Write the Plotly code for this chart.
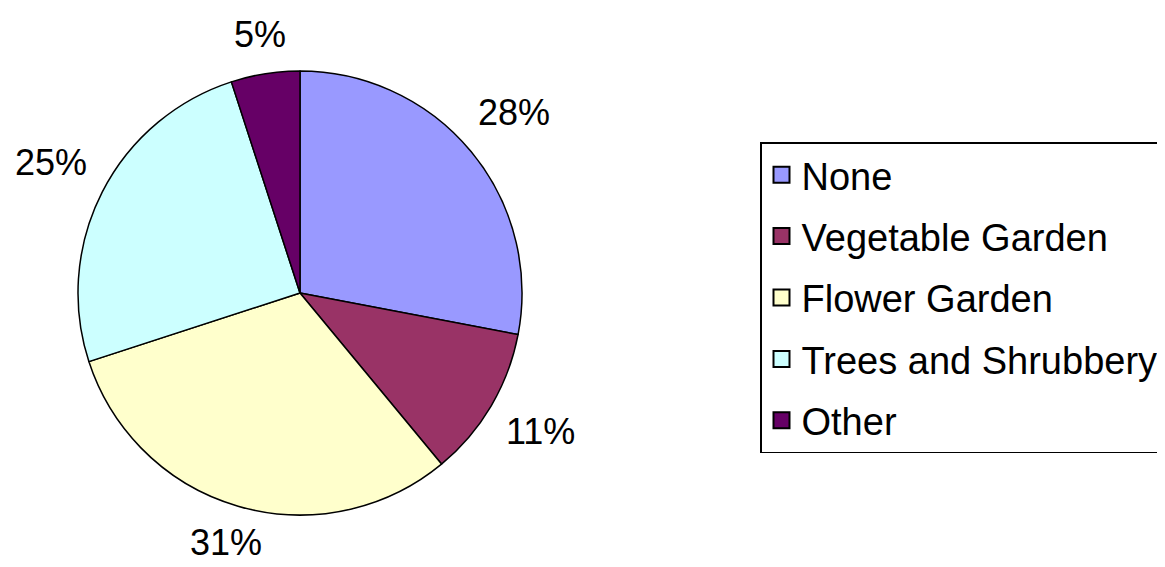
import math
import plotly.graph_objects as go

categories = ["None", "Vegetable Garden", "Flower Garden", "Trees and Shrubbery", "Other"]
values = [28, 11, 31, 25, 5]
colors = ["#9999FF", "#993366", "#FFFFCC", "#CCFFFF", "#660066"]

# page body adds an 8px offset; work in page pixels and shift
OFF = 8
W, H = 1165 - OFF, 567 - OFF
cx, cy, r = 300 - OFF, 293 - OFF, 222
label_cy = cy - 4       # vertical centre used for the label ring
edge_gap = 242          # distance from centre to near edge of label box
lab_size = 36
lab_h = 24
FONT = "Liberation Sans, Arial, sans-serif"

fig = go.Figure()
fig.add_trace(go.Pie(
    labels=categories, values=values, sort=False, direction="clockwise", rotation=0,
    marker=dict(colors=colors, line=dict(color="#000000", width=1.5)),
    textinfo="none", hoverinfo="label+percent", showlegend=False,
    domain=dict(x=[(cx - r) / W, (cx + r) / W], y=[1 - (cy + r) / H, 1 - (cy - r) / H]),
))

# legend entries (separate groups for spacing)
for i, (c, col) in enumerate(zip(categories, colors)):
    fig.add_trace(go.Scatter(
        x=[None], y=[None], mode="markers", name=c, legendgroup=f"g{i}",
        marker=dict(symbol="square", size=16, color=col, line=dict(color="#000000", width=2)),
    ))

# percentage labels placed from cumulative angles
total = sum(values)
cum = 0
annotations = []
for v in values:
    mid = (cum + v / 2) / total * 2 * math.pi
    cum += v
    txt = f"{round(v / total * 100)}%"
    w = lab_size * (0.556 * (len(txt) - 1) + 0.889)
    d = edge_gap + (w / 2) * abs(math.sin(mid)) + (lab_h / 2) * abs(math.cos(mid))
    px = cx + d * math.sin(mid)
    py = label_cy - d * math.cos(mid)
    annotations.append(dict(
        x=px / W, y=1 - py / H, xref="paper", yref="paper",
        text=txt, showarrow=False,
        xanchor="center", yanchor="middle",
        font=dict(family=FONT, size=lab_size, color="#000000"),
    ))

fig.update_layout(
    width=W, height=H,
    margin=dict(l=0, r=0, t=0, b=0),
    paper_bgcolor="#FFFFFF", plot_bgcolor="#FFFFFF",
    xaxis=dict(visible=False), yaxis=dict(visible=False),
    annotations=annotations,
    legend=dict(
        x=(760 - OFF) / W, y=1 - (142 - OFF) / H, xanchor="left", yanchor="top",
        bordercolor="#000000", borderwidth=1.5, bgcolor="#FFFFFF",
        font=dict(family=FONT, size=38, color="#000000"),
        traceorder="grouped", tracegroupgap=9, itemsizing="trace",
    ),
    font=dict(family=FONT),
)

fig.write_html("out.html")
